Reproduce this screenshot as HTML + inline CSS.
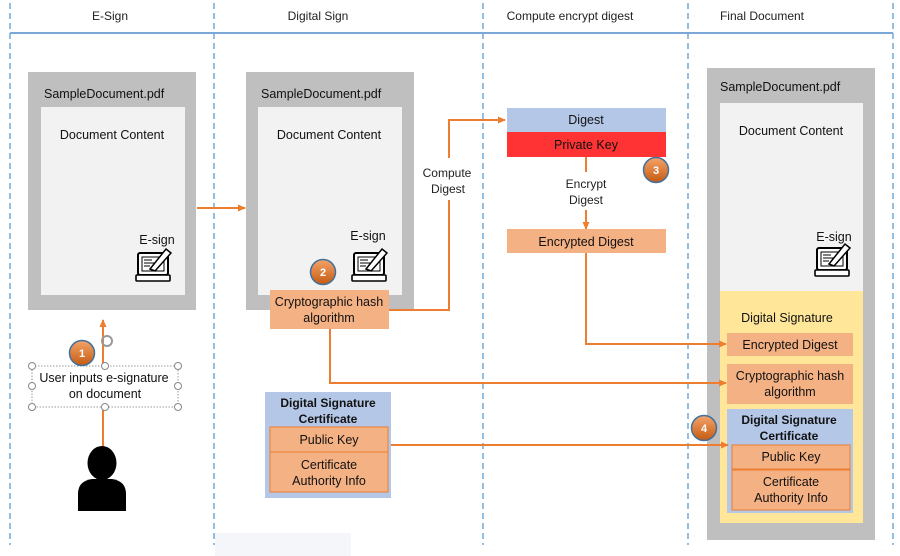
<!DOCTYPE html>
<html><head><meta charset="utf-8"><style>
html,body{margin:0;padding:0;background:#fff;}
svg{display:block;font-family:"Liberation Sans",sans-serif;}
</style></head><body>
<svg width="900" height="556" viewBox="0 0 900 556" xmlns="http://www.w3.org/2000/svg">
<defs>
<marker id="ah" markerWidth="8" markerHeight="8" refX="7" refY="4" orient="auto" markerUnits="userSpaceOnUse">
<path d="M0,0.5 L8,4 L0,7.5 z" fill="#ED7D31"/></marker>
<linearGradient id="cg" x1="0" y1="0" x2="0" y2="1"><stop offset="0" stop-color="#F4A46A"/><stop offset="1" stop-color="#C55A11"/></linearGradient>
<g id="lap">
<rect x="2" y="2" width="30" height="22" rx="2" fill="#fff" stroke="#000" stroke-width="2"/>
<rect x="6" y="6" width="22" height="14" fill="#fff" stroke="#000" stroke-width="1"/>
<line x1="8" y1="9" x2="16" y2="9" stroke="#000"/><line x1="8" y1="12" x2="18" y2="12" stroke="#000"/><line x1="8" y1="15" x2="14" y2="15" stroke="#000"/>
<rect x="0" y="24" width="34" height="6" rx="1" fill="#fff" stroke="#000" stroke-width="1.6"/>
<path d="M14,18 L30,-2 L35,2 L19,20 z" fill="#fff" stroke="#000" stroke-width="1.5"/>
</g>
</defs>
<!-- grid -->
<g stroke="#5B9BD5" stroke-width="1.3" stroke-dasharray="6,4">
<line x1="10" y1="3" x2="10" y2="545"/><line x1="214" y1="3" x2="214" y2="545"/>
<line x1="483" y1="3" x2="483" y2="545"/><line x1="688" y1="3" x2="688" y2="545"/>
<line x1="893" y1="3" x2="893" y2="545"/>
</g>
<line x1="10" y1="33" x2="893" y2="33" stroke="#7BA7D9" stroke-width="2"/>
<g font-size="12" text-anchor="middle" fill="#222">
<text x="110" y="20">E-Sign</text><text x="318" y="20">Digital Sign</text>
<text x="570" y="20">Compute encrypt digest</text><text x="762" y="20">Final Document</text>
</g>
<rect x="215" y="533" width="136" height="23" fill="#F4F6FA"/>
<!-- doc 1 -->
<rect x="28" y="72" width="168" height="238" fill="#BFBFBF"/>
<rect x="41" y="107" width="144" height="188" fill="#F2F2F2"/>
<text x="44" y="98" font-size="12.5" fill="#111">SampleDocument.pdf</text>
<text x="112" y="139" font-size="12.5" text-anchor="middle" fill="#111">Document Content</text>
<text x="157" y="244" font-size="12.5" text-anchor="middle" fill="#111">E-sign</text>
<use href="#lap" x="136" y="251"/>
<!-- doc 2 -->
<rect x="246" y="72" width="168" height="238" fill="#BFBFBF"/>
<rect x="258" y="107" width="144" height="188" fill="#F2F2F2"/>
<text x="261" y="98" font-size="12.5" fill="#111">SampleDocument.pdf</text>
<text x="329" y="139" font-size="12.5" text-anchor="middle" fill="#111">Document Content</text>
<text x="368" y="240" font-size="12.5" text-anchor="middle" fill="#111">E-sign</text>
<use href="#lap" x="352" y="251"/>
<!-- final doc -->
<rect x="707" y="68" width="168" height="472" fill="#BFBFBF"/>
<rect x="720" y="103" width="143" height="188" fill="#F2F2F2"/>
<text x="720" y="91" font-size="12.5" fill="#111">SampleDocument.pdf</text>
<text x="791" y="135" font-size="12.5" text-anchor="middle" fill="#111">Document Content</text>
<text x="834" y="241" font-size="12.5" text-anchor="middle" fill="#111">E-sign</text>
<use href="#lap" x="815" y="246"/>
<rect x="720" y="291" width="143" height="232" fill="#FFE699"/>
<text x="787" y="322" font-size="12.5" text-anchor="middle" fill="#111">Digital Signature</text>
<rect x="727" y="333" width="126" height="23" fill="#F4B183"/>
<text x="790" y="349" font-size="12.5" text-anchor="middle" fill="#111">Encrypted Digest</text>
<rect x="727" y="364" width="126" height="40" fill="#F4B183"/>
<text x="790" y="380" font-size="12.5" text-anchor="middle" fill="#111">Cryptographic hash</text>
<text x="790" y="396" font-size="12.5" text-anchor="middle" fill="#111">algorithm</text>
<rect x="727" y="409" width="126" height="104" fill="#B4C7E7"/>
<text x="789" y="424" font-size="12" font-weight="bold" text-anchor="middle" fill="#111">Digital Signature</text>
<text x="789" y="440" font-size="12" font-weight="bold" text-anchor="middle" fill="#111">Certificate</text>
<rect x="732" y="445" width="118" height="24" fill="#F4B183" stroke="#ED7D31"/>
<text x="791" y="461" font-size="12.5" text-anchor="middle" fill="#111">Public Key</text>
<rect x="732" y="470" width="118" height="40" fill="#F4B183" stroke="#ED7D31"/>
<text x="791" y="486" font-size="12.5" text-anchor="middle" fill="#111">Certificate</text>
<text x="791" y="502" font-size="12.5" text-anchor="middle" fill="#111">Authority Info</text>
<!-- connectors -->
<g stroke="#ED7D31" stroke-width="2" fill="none">
<line x1="197" y1="208" x2="245" y2="208" marker-end="url(#ah)"/>
<polyline points="388,310 449,310 449,200"/>
<polyline points="449,158 449,120 505,120" marker-end="url(#ah)"/>
<line x1="586" y1="157" x2="586" y2="172"/>
<line x1="586" y1="210" x2="586" y2="229" marker-end="url(#ah)"/>
<polyline points="586,253 586,344 726,344" marker-end="url(#ah)"/>
<polyline points="330,329 330,383 726,383" marker-end="url(#ah)"/>
<line x1="389" y1="445" x2="728" y2="445" marker-end="url(#ah)"/>
<line x1="103" y1="447" x2="103" y2="407"/>
<line x1="103" y1="366" x2="103" y2="320" marker-end="url(#ah)"/>
</g>
<!-- digest stack -->
<rect x="507" y="108" width="159" height="24" fill="#B4C7E7"/>
<text x="586" y="124" font-size="12.5" text-anchor="middle" fill="#111">Digest</text>
<rect x="507" y="132" width="159" height="25" fill="#FF3333"/>
<text x="586" y="149" font-size="12.5" text-anchor="middle" fill="#111">Private Key</text>
<text x="586" y="188" font-size="12" text-anchor="middle" fill="#222">Encrypt</text>
<text x="586" y="204" font-size="12" text-anchor="middle" fill="#222">Digest</text>
<rect x="507" y="229" width="159" height="24" fill="#F4B183"/>
<text x="586" y="246" font-size="12.5" text-anchor="middle" fill="#111">Encrypted Digest</text>
<text x="447" y="177" font-size="12" text-anchor="middle" fill="#222">Compute</text>
<text x="448" y="193" font-size="12" text-anchor="middle" fill="#222">Digest</text>
<!-- hash box -->
<rect x="270" y="290" width="119" height="39" fill="#F4B183"/>
<text x="329" y="306" font-size="12.5" text-anchor="middle" fill="#111">Cryptographic hash</text>
<text x="329" y="322" font-size="12.5" text-anchor="middle" fill="#111">algorithm</text>
<!-- left cert -->
<rect x="265" y="392" width="126" height="106" fill="#B4C7E7"/>
<text x="328" y="407" font-size="12" font-weight="bold" text-anchor="middle" fill="#111">Digital Signature</text>
<text x="328" y="423" font-size="12" font-weight="bold" text-anchor="middle" fill="#111">Certificate</text>
<rect x="270" y="427" width="118" height="25" fill="#F4B183" stroke="#ED7D31"/>
<text x="329" y="444" font-size="12.5" text-anchor="middle" fill="#111">Public Key</text>
<rect x="270" y="452" width="118" height="40" fill="#F4B183" stroke="#ED7D31"/>
<text x="329" y="469" font-size="12.5" text-anchor="middle" fill="#111">Certificate</text>
<text x="329" y="485" font-size="12.5" text-anchor="middle" fill="#111">Authority Info</text>
<!-- user box -->
<rect x="32" y="366" width="146" height="41" fill="#fff" stroke="#999" stroke-dasharray="1.5,1.5"/>
<g fill="#fff" stroke="#888">
<circle cx="32" cy="366" r="3.5"/><circle cx="105" cy="366" r="3.5"/><circle cx="178" cy="366" r="3.5"/>
<circle cx="32" cy="386" r="3.5"/><circle cx="178" cy="386" r="3.5"/>
<circle cx="32" cy="407" r="3.5"/><circle cx="105" cy="407" r="3.5"/><circle cx="178" cy="407" r="3.5"/>
</g>
<circle cx="107" cy="341" r="5" fill="none" stroke="#999" stroke-width="2"/>
<text x="104" y="382" font-size="12.5" text-anchor="middle" fill="#111">User inputs e-signature</text>
<text x="105" y="398" font-size="12.5" text-anchor="middle" fill="#111">on document</text>
<!-- person -->
<ellipse cx="102" cy="463" rx="14.5" ry="17" fill="#000"/>
<path d="M78,511 L78,494 Q78,481 92,479 L112,479 Q126,481 126,494 L126,511 z" fill="#000"/>
<!-- circles -->
<g font-size="11" font-weight="bold" fill="#fff" text-anchor="middle">
<circle cx="82" cy="353" r="12.5" fill="url(#cg)" stroke="#41719C" stroke-width="1.5"/><text x="82" y="357">1</text>
<circle cx="323" cy="272" r="12.5" fill="url(#cg)" stroke="#41719C" stroke-width="1.5"/><text x="323" y="276">2</text>
<circle cx="656" cy="170" r="12.5" fill="url(#cg)" stroke="#41719C" stroke-width="1.5"/><text x="656" y="174">3</text>
<circle cx="704" cy="428" r="12.5" fill="url(#cg)" stroke="#41719C" stroke-width="1.5"/><text x="704" y="432">4</text>
</g>
</svg>
</body></html>
